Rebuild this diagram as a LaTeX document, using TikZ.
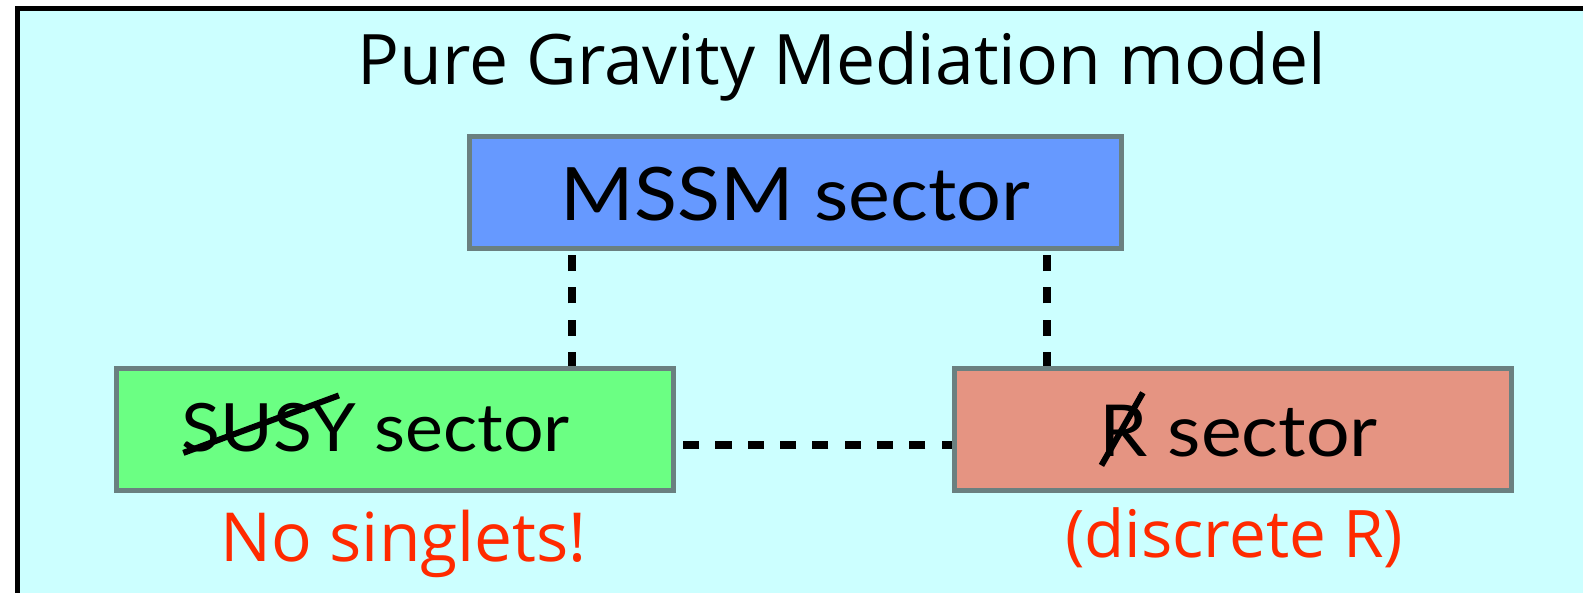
\documentclass[tikz,border=0pt]{standalone}
\usepackage{fontspec}
\newfontfamily\titlefont{Open Sans}
\newfontfamily\boxfont[FakeStretch=1.075]{Lato}
\definecolor{bgcyan}{HTML}{CCFFFF}
\definecolor{mssmblue}{HTML}{6699FF}
\definecolor{susygreen}{HTML}{6BFF83}
\definecolor{rsalmon}{HTML}{E59482}
\definecolor{boxgray}{HTML}{6A8080}
\definecolor{notered}{HTML}{FF2A00}
\tikzset{
  sectorbox/.style={draw=boxgray, line width=5pt, inner sep=0pt, rectangle},
  boxtext/.style={anchor=base west, inner sep=0pt, font=\boxfont\fontsize{#1}{#1}\selectfont},
  plaintext/.style={inner sep=0pt, font=\titlefont\fontsize{#1}{#1}\selectfont},
  linkline/.style={line width=8pt, dash pattern=on 16pt off 16pt},
  strike/.style={line width=6pt}
}
\begin{document}
\begin{tikzpicture}[x=1pt,y=-1pt]
\useasboundingbox (0,0) rectangle (1568,587);
\clip (0,0) rectangle (1568,587);
\fill[white] (0,0) rectangle (1568,587);
\fill[bgcyan] (17.5,8.5) rectangle (1580,600);
\draw[line width=5pt] (17.5,600) -- (17.5,8.5) -- (1580,8.5);

% title
\node[plaintext=69, anchor=base west] (title) at (354,84) {Pure Gravity Mediation model};

% boxes
\node[sectorbox, fill=mssmblue, minimum width=645, minimum height=111] (mssm) at (788,191) {};
\node[sectorbox, fill=susygreen, minimum width=552, minimum height=120.5] (susy) at (391.3,425.25) {};
\node[sectorbox, fill=rsalmon, minimum width=552, minimum height=120.5] (rbox) at (1221.1,425.25) {};

% box texts
\node[boxtext=73] (mssmtext) at (555,218) {MSSM sector};
\node[boxtext=66] (susytext) at (180,447) {SUSY sector};
\node[boxtext=71] (rtext) at (1089,452) {R sector};

% strikes
\coordinate (s1a) at (181.6,448.6);
\coordinate (s1b) at (335.7,391.7);
\draw[strike] (s1a) -- (s1b);
\coordinate (s2a) at (1091,461);
\coordinate (s2b) at (1132,389);
\draw[strike] (s2a) -- (s2b);

% connectors
\coordinate (cl) at (567,0);
\coordinate (cr) at (1037.5,0);
\coordinate (ch) at (0,441);
\draw[linkline, dash phase=2pt] (susy.north -| cl) -- (mssm.south -| cl);
\draw[linkline, dash phase=2pt] (rbox.north -| cr) -- (mssm.south -| cr);
\draw[linkline, dash phase=6pt] (rbox.west |- ch) -- (susy.east |- ch);

% red notes
\node[plaintext=67, anchor=base west, text=notered] (note1) at (218,556) {No singlets!};
\node[plaintext=65, anchor=base east, text=notered] (note2) at (1390,552) {(discrete R)};
\end{tikzpicture}
\end{document}
